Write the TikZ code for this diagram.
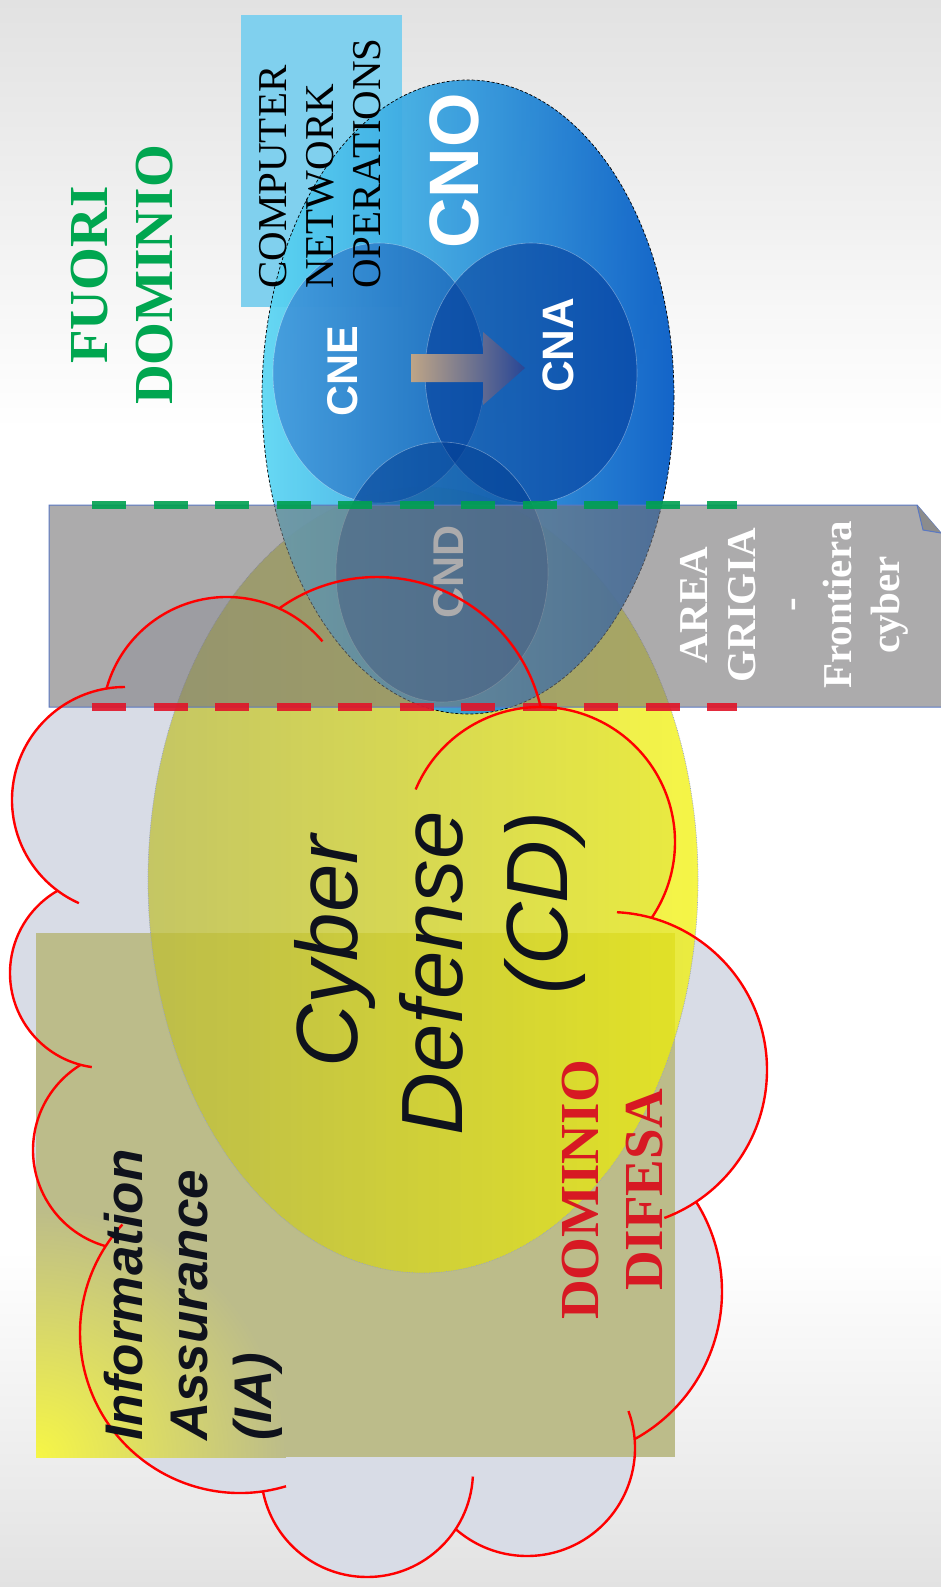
\documentclass[tikz,border=0pt]{standalone}
\usepackage{fontspec}
\setmainfont{Liberation Serif}
\newfontfamily\arialfont{Liberation Sans}
\usetikzlibrary{calc,shadings}

\definecolor{cloudfill}{RGB}{216,220,230}
\definecolor{cloudred}{RGB}{255,0,0}
\definecolor{iaYellow}{RGB}{246,246,70}
\definecolor{iaOlive}{RGB}{188,188,138}
\definecolor{cdLeft}{RGB}{190,190,50}
\definecolor{cdRight}{RGB}{242,242,0}
\definecolor{cdEdge}{RGB}{150,160,200}
\definecolor{cnoLeft}{RGB}{90,214,243}
\definecolor{cnoMid}{RGB}{0,165,228}
\definecolor{cnoRight}{RGB}{0,88,196}
\definecolor{cneLeft}{RGB}{60,140,215}
\definecolor{cneRight}{RGB}{20,95,180}
\definecolor{cnaFill}{RGB}{0,55,150}
\definecolor{cndFill}{RGB}{0,60,145}
\definecolor{arrowTan}{RGB}{190,165,135}
\definecolor{arrowBlue}{RGB}{40,70,150}
\definecolor{cnoBox}{RGB}{128,208,238}
\definecolor{bandGray}{RGB}{118,116,118}
\definecolor{bandEdge}{RGB}{90,120,195}
\definecolor{fuoriGreen}{RGB}{0,166,80}
\definecolor{difesaRed}{RGB}{215,25,35}
\definecolor{dashGreen}{RGB}{0,160,80}
\definecolor{dashRed}{RGB}{225,20,40}
\definecolor{textBlack}{RGB}{15,18,28}
\definecolor{pageEdge}{RGB}{226,226,226}

\begin{document}
\begin{tikzpicture}[x=1pt,y=-1pt,
  cloudline/.style={draw=cloudred, line width=2.4pt},
  rottext/.style={rotate=90, inner sep=0pt},
  circleedge/.style={draw=white, draw opacity=0.35, line width=0.6pt},
  dashline/.style={line width=8pt, dash pattern=on 34pt off 27.5pt}]

\useasboundingbox (0,0) rectangle (941,1587);

% page background: white, greying towards top and bottom
\fill[white] (0,0) rectangle (941,1587);
\begin{scope}[y=1pt]
  \shade[top color=pageEdge, bottom color=white] (0,0) rectangle (941,-430);
  \shade[top color=white, bottom color=pageEdge] (0,-1250) rectangle (941,-1587);
\end{scope}

% centres of the cloud bumps
\coordinate (c1) at (227,722);
\coordinate (c2) at (377,745);
\coordinate (c3) at (540,842);
\coordinate (c4) at (609,1070);
\coordinate (c5) at (553.6,1291.5);
\coordinate (c6) at (527,1448);
\coordinate (c7) at (367,1471);
\coordinate (c8) at (240,1333);
\coordinate (c9) at (133,1150);
\coordinate (c10) at (105,973);
\coordinate (c11) at (125,800);

% cloud body
\fill[cloudfill]
  ($(c1)+(195.5:125)$) arc[start angle=195.5, end angle=294.7, radius=125]
  -- ($(c2)+(234.4:168)$) arc[start angle=234.4, end angle=347, radius=168]
  -- ($(c3)+(270.3:135)$) arc[start angle=270.3, end angle=394.2, radius=135]
  -- ($(c4)+(285.7:158)$) arc[start angle=285.7, end angle=416.5, radius=158]
  -- ($(c5)+(-32.2:168.4)$) arc[start angle=-32.2, end angle=61.2, radius=168.4]
  -- ($(c6)+(-4.7:108)$) arc[start angle=-4.7, end angle=131.3, radius=108]
  -- ($(c7)+(33.1:106)$) arc[start angle=33.1, end angle=168.9, radius=106]
  -- ($(c8)+(81.8:160)$) arc[start angle=81.8, end angle=212.9, radius=160]
  -- ($(c9)+(105.9:100)$) arc[start angle=105.9, end angle=238.4, radius=100]
  -- ($(c10)+(104.9:95)$) arc[start angle=104.9, end angle=240.1, radius=95]
  -- ($(c11)+(126.6:113)$) arc[start angle=126.6, end angle=260.6, radius=113]
  -- cycle;

% Information Assurance panel, yellow glow in its lower left corner
\fill[iaOlive] (36,933) rectangle (675,1457);
\begin{scope}
  \clip (36,933) rectangle (675,1457);
  \shade[inner color=iaYellow, outer color=iaOlive] (36,1457) circle[radius=250];
\end{scope}

% Cyber Defense ellipse
\shade[left color=cdLeft, right color=cdRight, fill opacity=0.72] (423,880) ellipse[x radius=275, y radius=393];
\draw[cdEdge, densely dotted, line width=0.7pt] (423,880) ellipse[x radius=275, y radius=393];

% Computer Network Operations label panel
\fill[cnoBox] (241,15) rectangle (402,307);

% CNO ellipse
\shade[left color=cnoLeft, middle color=cnoMid, right color=cnoRight, fill opacity=0.92]
  (468,397) ellipse[x radius=206, y radius=317];
\draw[black, densely dashed, line width=0.7pt] (468,397) ellipse[x radius=206, y radius=317];

% CNE, CNA, CND
\shade[left color=cneLeft, right color=cneRight, fill opacity=0.75] (379,373) ellipse[x radius=106, y radius=130];
\draw[circleedge] (379,373) ellipse[x radius=106, y radius=130];
\fill[cnaFill, fill opacity=0.55] (531,373) ellipse[x radius=106, y radius=130];
\draw[circleedge] (531,373) ellipse[x radius=106, y radius=130];
\fill[cndFill, fill opacity=0.55] (442,572) ellipse[x radius=106, y radius=130];
\draw[circleedge] (442,572) ellipse[x radius=106, y radius=130];

% block arrow CNE -> CNA
\shade[left color=arrowTan, right color=arrowBlue]
  (411,354) -- (483,354) -- (483,332) -- (525,368) -- (483,405) -- (483,382) -- (411,382) -- cycle;

\node[rottext, anchor=base west, font=\arialfont\bfseries\fontsize{43}{50}\selectfont, text=white] (cnd) at (463,619) {CND};

% grey frontier band
\fill[bandGray, fill opacity=0.6] (49,505) -- (917,505) -- (941,533) -- (941,707) -- (49,707) -- cycle;
\draw[bandEdge, line width=1pt] (941,707) -- (49,707) -- (49,505) -- (917,505) -- (941,533);
\fill[black!45] (917,505) -- (923,530) -- (941,533) -- cycle;
\draw[bandEdge, line width=1pt] (917,505) -- (923,530) -- (941,533);

% frontier dashes
\coordinate (gA) at (92,505);
\coordinate (gB) at (737,505);
\coordinate (rA) at (92,707);
\coordinate (rB) at (737,707);
\draw[dashline, dashGreen, draw opacity=0.9] (gA) -- (gB);
\draw[dashline, dashRed, draw opacity=0.9] (rA) -- (rB);

% cloud outline
\draw[cloudline] ($(c1)+(195.5:125)$) arc[start angle=195.5, end angle=319.8, radius=125];
\draw[cloudline] ($(c2)+(234.4:168)$) arc[start angle=234.4, end angle=347, radius=168];
\draw[cloudline] ($(c3)+(202.9:135)$) arc[start angle=202.9, end angle=394.2, radius=135];
\draw[cloudline] ($(c4)+(272.9:158)$) arc[start angle=272.9, end angle=429.5, radius=158];
\draw[cloudline] ($(c5)+(-32.2:168.4)$) arc[start angle=-32.2, end angle=61.2, radius=168.4];
\draw[cloudline] ($(c6)+(-20:108)$) arc[start angle=-20, end angle=131.3, radius=108];
\draw[cloudline] ($(c7)+(3:106)$) arc[start angle=3, end angle=168.9, radius=106];
\draw[cloudline] ($(c8)+(73.3:160)$) arc[start angle=73.3, end angle=222.7, radius=160];
\draw[cloudline] ($(c9)+(105.9:100)$) arc[start angle=105.9, end angle=238.4, radius=100];
\draw[cloudline] ($(c10)+(98:95)$) arc[start angle=98, end angle=240.1, radius=95];
\draw[cloudline] ($(c11)+(114.1:113)$) arc[start angle=114.1, end angle=270, radius=113];

% labels
\node[rottext, anchor=north west, align=left, font=\fontsize{41}{47}\selectfont, text=black] (cnotitle) at (259,289) {COMPUTER\\NETWORK\\OPERATIONS};
\node[rottext, anchor=base west, font=\arialfont\bfseries\fontsize{70}{80}\selectfont, text=white] (cno) at (478,249) {CNO};
\node[rottext, anchor=base west, font=\arialfont\bfseries\fontsize{43}{50}\selectfont, text=white] (cne) at (357,417) {CNE};
\node[rottext, anchor=base west, font=\arialfont\bfseries\fontsize{44}{50}\selectfont, text=white] (cna) at (573,393) {CNA};

\node[rottext, anchor=north, align=center, font=\bfseries\fontsize{55}{65}\selectfont, text=fuoriGreen] (fuori) at (71,275) {FUORI\\DOMINIO};

\node[rottext, anchor=north east, align=right, font=\arialfont\itshape\fontsize{87}{105}\selectfont, text=textBlack] (cd) at (294,811) {Cyber\kern0.28em\\Defense\\(CD)};

\node[rottext, anchor=north west, align=left, font=\arialfont\bfseries\itshape\fontsize{53}{64.5}\selectfont, text=textBlack] (ia) at (104,1441) {Information\\Assurance\\(IA)};

\node[rottext, anchor=north, align=center, font=\bfseries\fontsize{55}{64}\selectfont, text=difesaRed] (difesa) at (562,1190) {DOMINIO\\DIFESA};

\node[rottext, anchor=north, align=center, font=\bfseries\fontsize{41}{48}\selectfont, text=white] (area) at (680,605) {AREA\\GRIGIA\\-\\Frontiera\\cyber};

\end{tikzpicture}
\end{document}
